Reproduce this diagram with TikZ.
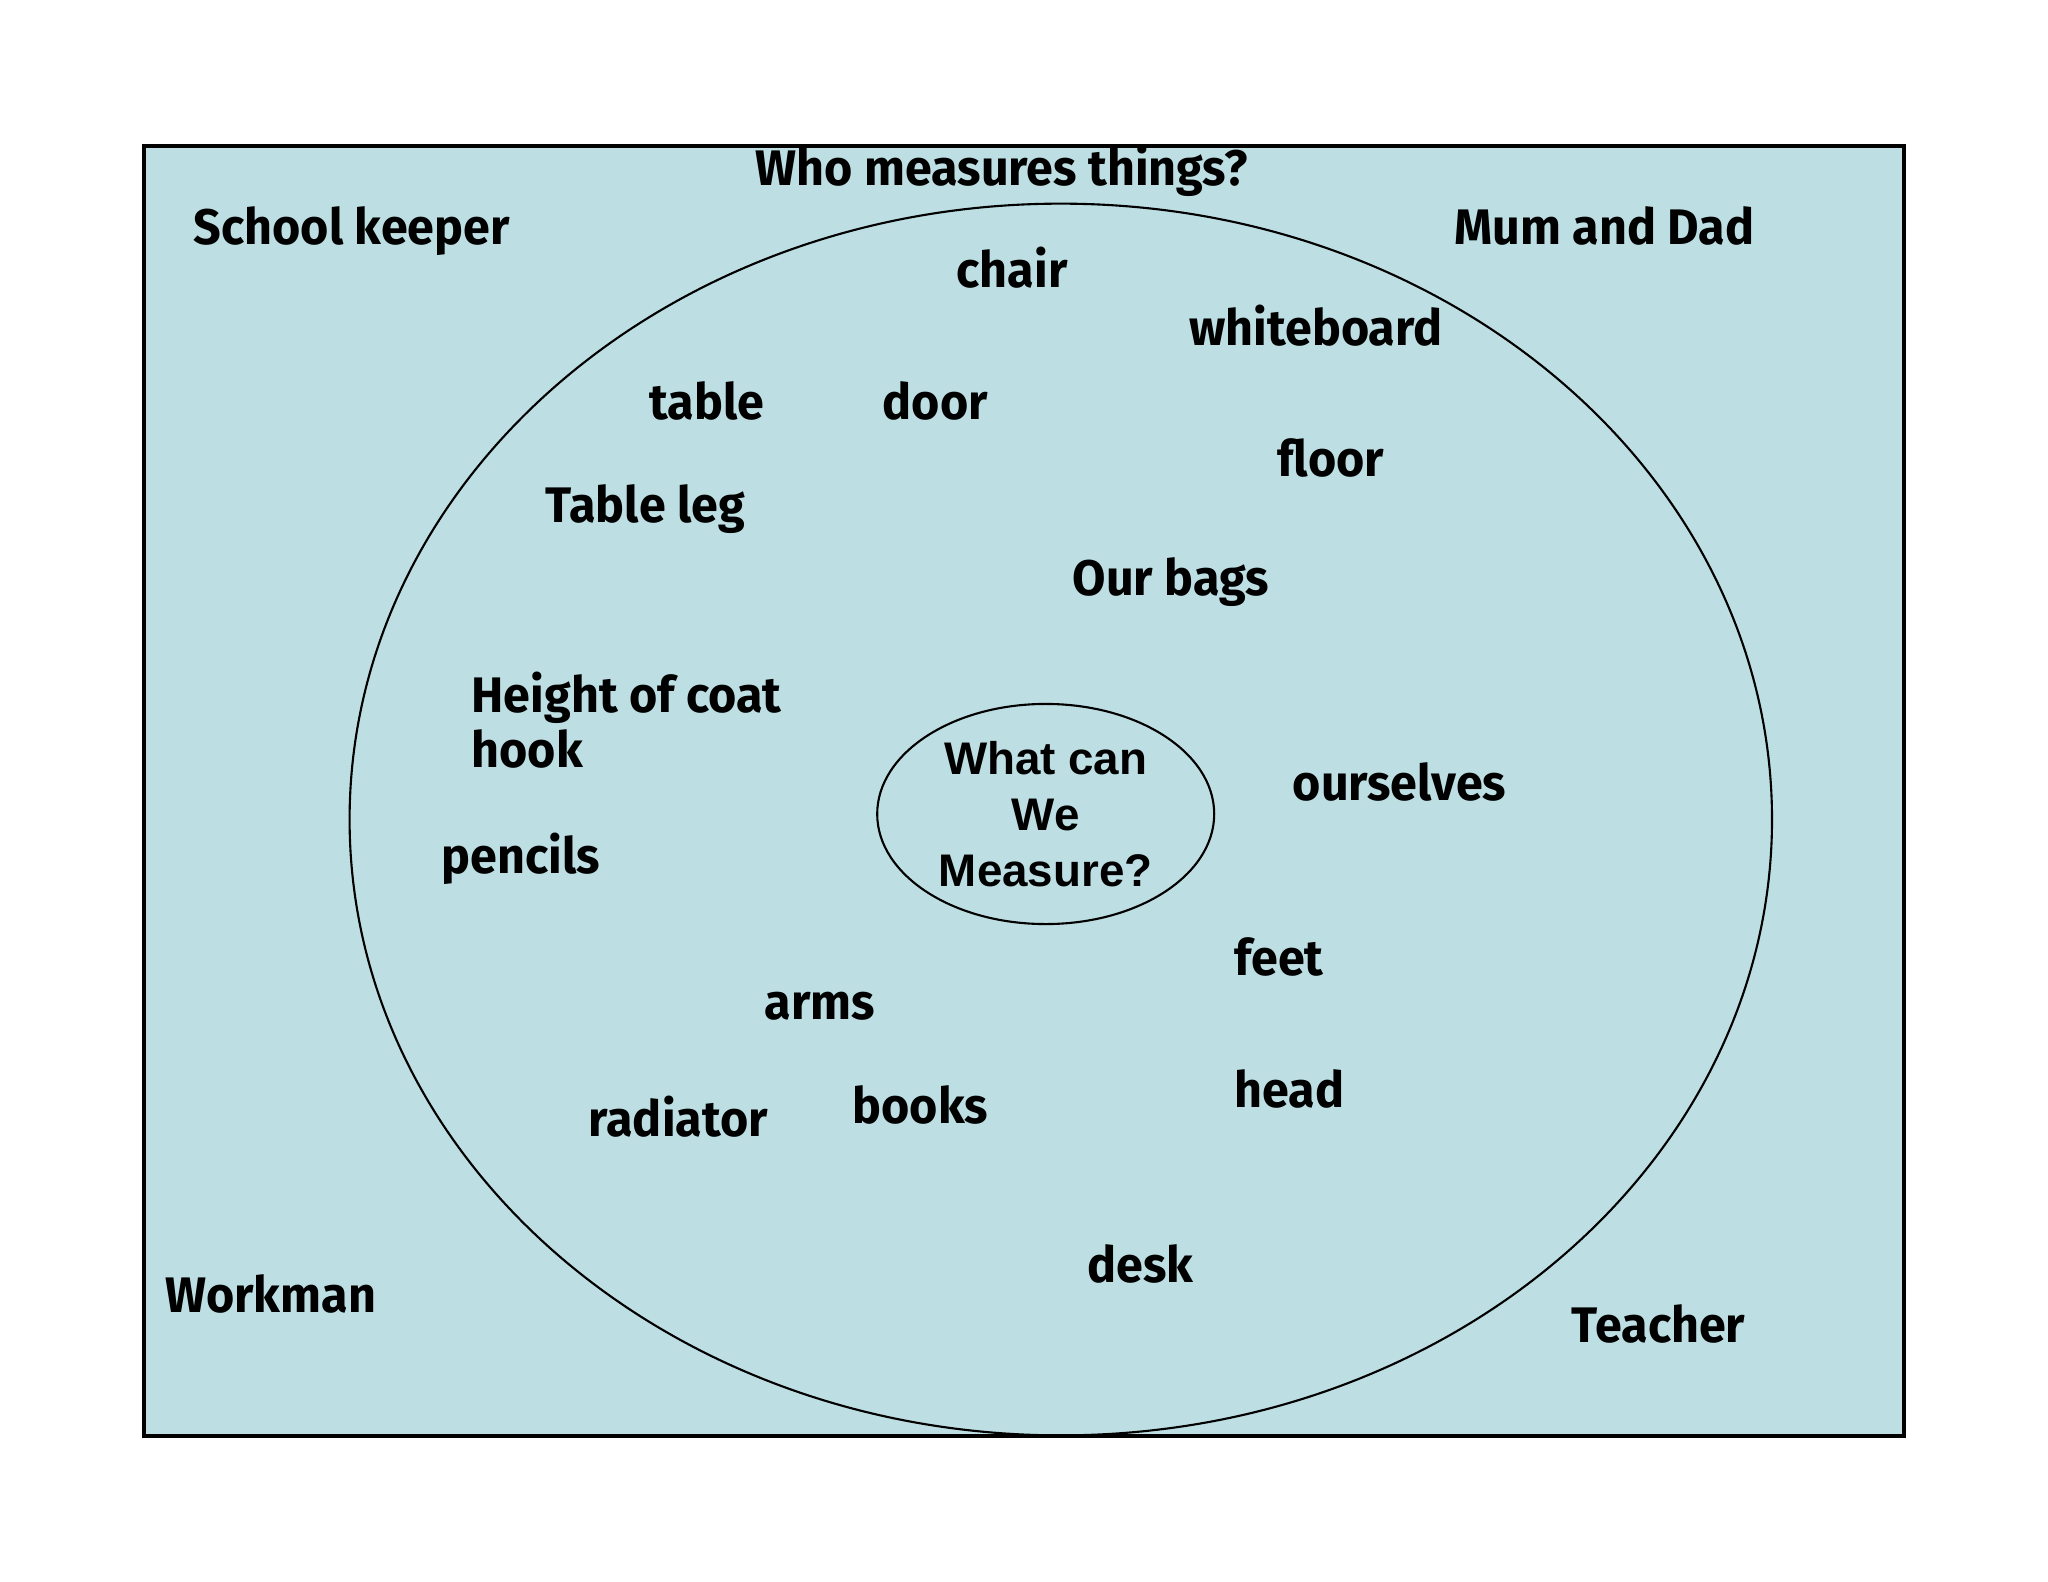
\documentclass[tikz,border=0pt]{standalone}
\usepackage{fontspec}
\usetikzlibrary{shapes.geometric}
\newfontfamily\comicf{Fira Sans}[FakeStretch=0.97]
\newfontfamily\arialf{Liberation Sans}
\definecolor{bg}{HTML}{BDDFE3}
\begin{document}
\begin{tikzpicture}[x=0.01cm,y=-0.01cm,
  lbl/.style={anchor=mid west, inner sep=0, font=\comicf\bfseries\fontsize{14.2}{17}\selectfont},
  ring/.style={draw, ellipse, line width=0.6pt, inner sep=0}]
\useasboundingbox (0,0) rectangle (2048,1582);
\draw[line width=0.9pt, fill=bg] (144,146) rectangle (1904,1436);
\node[ring, minimum width=14.216cm, minimum height=12.31cm] (outer) at (1060.8,819.5) {};
\node[ring, minimum width=3.368cm, minimum height=2.2cm, align=center,
  font=\arialf\bfseries\fontsize{13}{15.9}\selectfont] (core) at (1045.7,814) {What can\\We\\Measure?};
\node[lbl, anchor=mid] (who) at (1002,178) {Who measures things?};
\node[lbl] (school) at (193,237) {School keeper};
\node[lbl] (mum) at (1454,237) {Mum and Dad};
\node[lbl] (chair) at (956,280) {chair};
\node[lbl] (white) at (1189,338) {whiteboard};
\node[lbl] (table) at (649,412) {table};
\node[lbl] (door) at (882,412) {door};
\node[lbl] (floor) at (1277,469) {floor};
\node[lbl] (tleg) at (545,515) {Table leg};
\node[lbl] (bags) at (1072,588) {Our bags};
\node[lbl] (coat) at (471,705) {Height of coat};
\node[lbl] (hook) at (471,760) {hook};
\node[lbl] (selves) at (1292,793) {ourselves};
\node[lbl] (pencils) at (441,866) {pencils};
\node[lbl] (feet) at (1234,968) {feet};
\node[lbl] (arms) at (764,1012) {arms};
\node[lbl] (head) at (1234,1100) {head};
\node[lbl] (radiator) at (588,1129) {radiator};
\node[lbl] (books) at (852,1116) {books};
\node[lbl] (desk) at (1087,1275) {desk};
\node[lbl] (workman) at (165,1305) {Workman};
\node[lbl] (teacher) at (1571,1335) {Teacher};
\end{tikzpicture}
\end{document}
